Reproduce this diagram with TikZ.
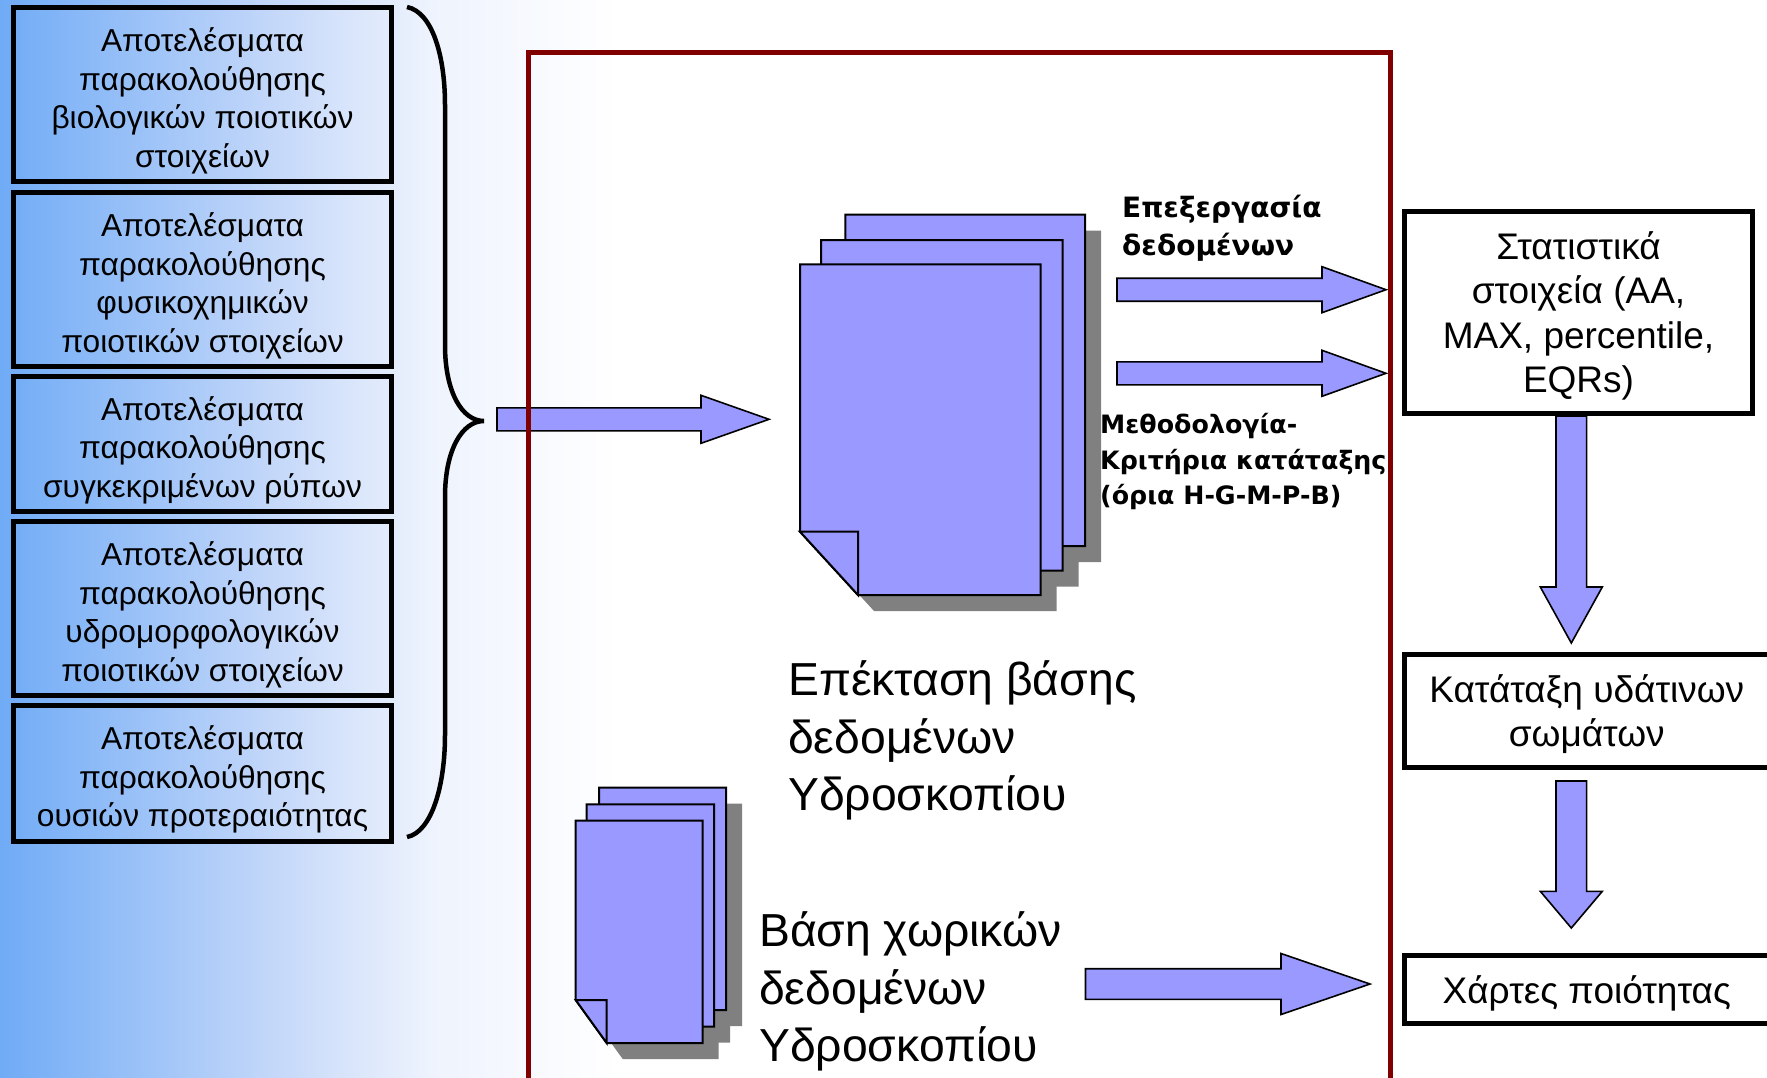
\documentclass[tikz,border=0pt]{standalone}
\usepackage{fontspec}
\setmainfont{Liberation Sans}
\newfontfamily\boldlabel{DejaVu Sans Bold}
\usetikzlibrary{positioning,calc}
\definecolor{arrowblue}{HTML}{9999FF}
\definecolor{frameRed}{HTML}{800000}
\definecolor{bgA}{HTML}{70ABF6}
\definecolor{bgB}{HTML}{C3D7F9}
\definecolor{bgC}{HTML}{EEF3FD}
\newcommand\lowerText{\rule{0pt}{30pt}}
\tikzstyle{result} = [rectangle, draw=black, line width=5pt, minimum width=378pt, inner sep=0pt, align=center, font=\fontsize{31.7}{38.5}\selectfont, text depth=-4pt]
\tikzstyle{output} = [rectangle, draw=black, line width=5pt, inner sep=0pt, align=center, font=\fontsize{37}{44.6}\selectfont, text depth=0pt]
\tikzstyle{bigtext} = [inner sep=0pt, anchor=west, align=left, font=\fontsize{46.3}{57.7}\selectfont]
\tikzstyle{boldtext} = [inner sep=0pt, anchor=west, align=left]
\tikzstyle{sheet} = [draw=black, fill=arrowblue, line width=2pt]
\tikzstyle{shadow} = [fill=black!50]
\tikzset{
	blockarrow/.style n args={3}{draw=black, fill=arrowblue, line width=1.6pt,
		to path={($(\tikztostart)!#1!-90:(\tikztotarget)$)
			-- ($($(\tikztotarget)!#3!(\tikztostart)$)!#1!-90:(\tikztotarget)$)
			-- ($($(\tikztotarget)!#3!(\tikztostart)$)!#2!-90:(\tikztotarget)$)
			-- (\tikztotarget)
			-- ($($(\tikztotarget)!#3!(\tikztostart)$)!#2!90:(\tikztotarget)$)
			-- ($($(\tikztotarget)!#3!(\tikztostart)$)!#1!90:(\tikztotarget)$)
			-- ($(\tikztostart)!#1!90:(\tikztotarget)$) -- cycle}
	}
}

\begin{document}
\begin{tikzpicture}[x=1pt, y=-1pt]
\useasboundingbox (0,0) rectangle (1767,1077);
%----------------------------------------------------------------------------
% Background
\shade [left color=bgA, right color=bgB] (0,0) rectangle (270.5,1077);
\shade [left color=bgB, right color=bgC] (270,0) rectangle (430.5,1077);
\shade [left color=bgC, right color=white] (430,0) rectangle (620,1077);

%----------------------------------------------------------------------------
% Placement of result boxes
\node (bioBox) [result, minimum height=174.5pt] at (202.5,94.25) {\lowerText Αποτελέσματα\\παρακολούθησης\\βιολογικών ποιοτικών\\στοιχείων};
\node (chemBox) [result, minimum height=174.5pt, below of = bioBox, node distance=185pt] {\lowerText Αποτελέσματα\\παρακολούθησης\\φυσικοχημικών\\ποιοτικών στοιχείων};
\node (pollutantBox) [result, minimum height=135.5pt, below of = chemBox, node distance=164.5pt] {\lowerText Αποτελέσματα\\παρακολούθησης\\συγκεκριμένων ρύπων};
\node (hydroBox) [result, minimum height=174.3pt, below of = pollutantBox, node distance=164.9pt] {\lowerText Αποτελέσματα\\παρακολούθησης\\υδρομορφολογικών\\ποιοτικών στοιχείων};
\node (priorityBox) [result, minimum height=136.3pt, below of = hydroBox, node distance=164.7pt] {\lowerText Αποτελέσματα\\παρακολούθησης\\ουσιών προτεραιότητας};

% Brace
\draw [line width=4.5pt] (407,7) .. controls (432,12) and (445,55) .. (445,105) -- (445,345)
	.. controls (445,392) and (462,421) .. (484,421)
	.. controls (462,421) and (445,450) .. (445,497) -- (445,735)
	.. controls (445,785) and (432,832) .. (407,837);

%----------------------------------------------------------------------------
% Document stacks
\fill [shadow] (861.4,497) -- (861.4,230.7) -- (1101,230.7) -- (1101,562) -- (919.4,562) -- cycle;
\fill [shadow] (837,523.4) -- (837,256) -- (1078.6,256) -- (1078.6,586.7) -- (895,586.7) -- cycle;
\fill [shadow] (816,547.7) -- (816,280.3) -- (1056.7,280.3) -- (1056.7,611) -- (874,611) -- cycle;
\draw [sheet] (845.4,482) -- (845.4,214.7) -- (1085,214.7) -- (1085,546) -- (903.4,546) -- cycle;
\draw [sheet] (821,507.4) -- (821,240) -- (1062.6,240) -- (1062.6,570.7) -- (879,570.7) -- cycle;
\draw [sheet] (800,531.7) -- (800,264.3) -- (1040.7,264.3) -- (1040.7,595) -- (858,595) -- cycle;
\draw [sheet] (800,531.7) -- (858,531.7) -- (858,595) -- cycle;

\fill [shadow] (615,983) -- (615,803.7) -- (742,803.7) -- (742,1026) -- (646,1026) -- cycle;
\fill [shadow] (602.6,999.6) -- (602.6,820.3) -- (730,820.3) -- (730,1042.7) -- (633.6,1042.7) -- cycle;
\fill [shadow] (591.7,1016) -- (591.7,836.7) -- (718.5,836.7) -- (718.5,1059) -- (622.7,1059) -- cycle;
\draw [sheet] (599,967) -- (599,787.7) -- (726,787.7) -- (726,1010) -- (630,1010) -- cycle;
\draw [sheet] (586.6,983.6) -- (586.6,804.3) -- (714,804.3) -- (714,1026.7) -- (617.6,1026.7) -- cycle;
\draw [sheet] (575.7,1000) -- (575.7,820.7) -- (702.5,820.7) -- (702.5,1043) -- (606.7,1043) -- cycle;
\draw [sheet] (575.7,1000) -- (606.7,1000) -- (606.7,1043) -- cycle;

%----------------------------------------------------------------------------
% Labels inside the frame
\node (processLabel) [boldtext, font=\boldlabel\fontsize{28}{37.5}\selectfont] at (1122,228) {Επεξεργασία\\δεδομένων};
\node (methodLabel) [boldtext, font=\boldlabel\fontsize{25.3}{35.5}\selectfont] at (1100,462) {Μεθοδολογία-\\Κριτήρια κατάταξης\\(όρια Η-G-M-P-B)};
\node (extLabel) [bigtext] at (788,740.5) {Επέκταση βάσης\\δεδομένων\\Υδροσκοπίου};
\node (spatialLabel) [bigtext] at (759,991.5) {Βάση χωρικών\\δεδομένων\\Υδροσκοπίου};

%----------------------------------------------------------------------------
% Output boxes
\node (statsBox) [output, minimum width=348pt, minimum height=202pt] at (1578.5,312) {Στατιστικά\\στοιχεία (AA,\\MAX, percentile,\\EQRs)};
\node (classBox) [output, minimum width=364.5pt, minimum height=113pt] at (1586.75,710.5) {Κατάταξη υδάτινων\\σωμάτων};
\node (mapBox) [output, minimum width=364.5pt, minimum height=68pt] at (1586.75,989.5) {Χάρτες ποιότητας};

%----------------------------------------------------------------------------
% Lines
\coordinate (inTail) at (497,419.3);
\coordinate (inTip) at (769,419.3);
\coordinate (topTail) at (1117,289.7);
\coordinate (topTip) at (1386,289.7);
\coordinate (midTail) at (1117,373.3);
\coordinate (midTip) at (1386,373.3);
\coordinate (spatialTail) at (1085.5,984);
\coordinate (spatialTip) at (1370,984);
\coordinate (statsTail) at (1571.3,416);
\coordinate (statsTip) at (1571.3,643);
\coordinate (classTail) at (1571.3,781);
\coordinate (classTip) at (1571.3,928);

\draw [blockarrow={11.5pt}{24pt}{68pt}] (inTail) to (inTip);
\draw [blockarrow={11.5pt}{23pt}{64pt}] (topTail) to (topTip);
\draw [blockarrow={11.5pt}{23pt}{64pt}] (midTail) to (midTip);
\draw [blockarrow={15.3pt}{30.5pt}{89pt}] (spatialTail) to (spatialTip);
\draw [blockarrow={15.3pt}{31pt}{56pt}] (statsTail) to (statsTip);
\draw [blockarrow={15.3pt}{31pt}{36.7pt}] (classTail) to (classTip);

% Frame
\draw [draw=frameRed, line width=5pt] (528,1082) -- (528,52) -- (1390,52) -- (1390,1082);

\end{tikzpicture}
\end{document}
